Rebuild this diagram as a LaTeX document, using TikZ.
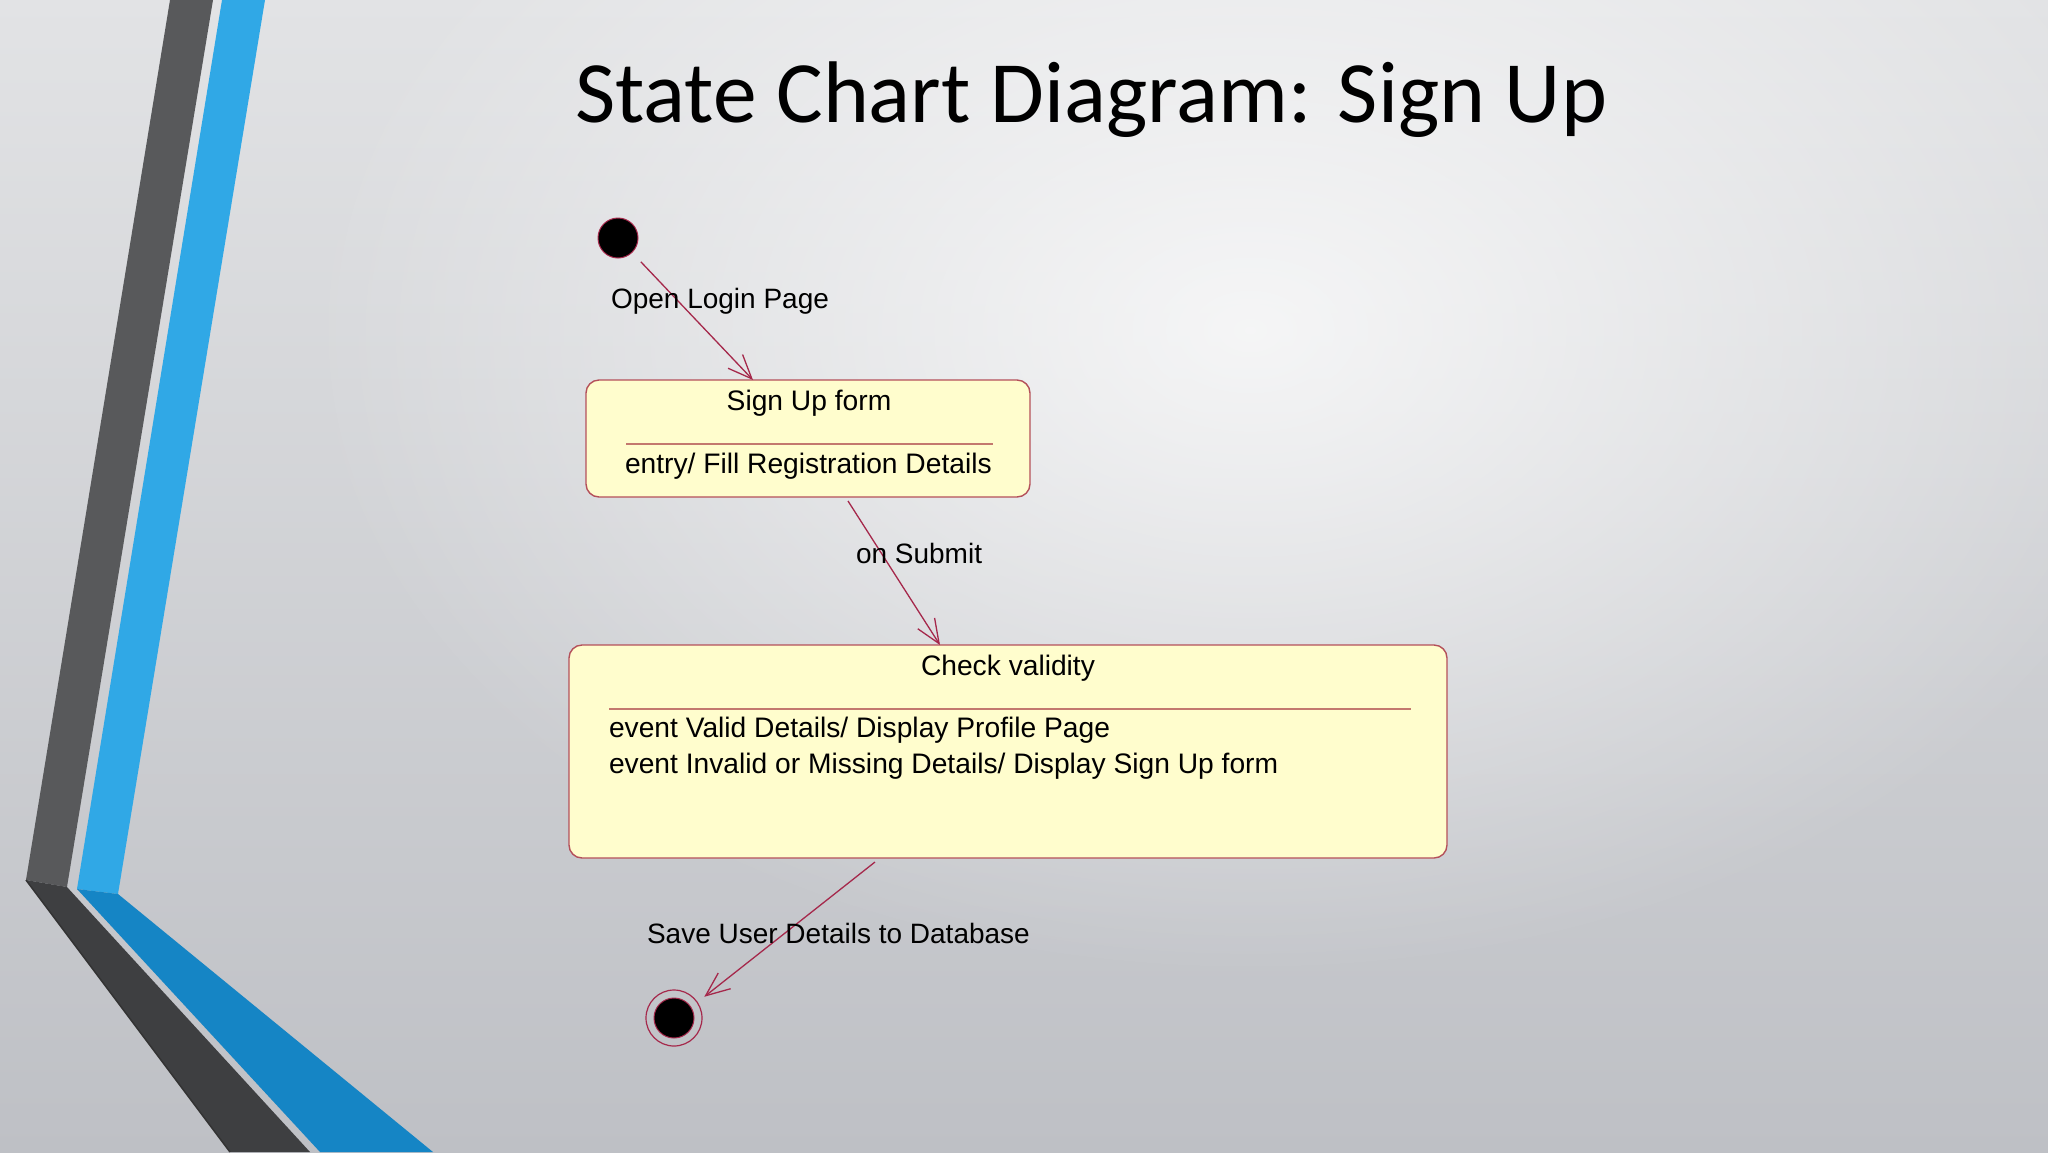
\documentclass[tikz,border=0pt]{standalone}
\usepackage{fontspec}
\setmainfont{Liberation Sans}
\newfontfamily\titlefont{Carlito}
\usetikzlibrary{arrows.meta,calc,fadings}
\definecolor{bgtop}{RGB}{226,227,229}
\definecolor{bgbot}{RGB}{190,192,197}
\definecolor{darkup}{RGB}{88,89,91}
\definecolor{darklow}{RGB}{62,63,65}
\definecolor{blueup}{RGB}{48,168,230}
\definecolor{bluelow}{RGB}{21,133,197}
\definecolor{maroon}{RGB}{165,40,75}
\definecolor{boxline}{RGB}{180,80,90}
\definecolor{divline}{RGB}{195,120,110}
\definecolor{boxfill}{RGB}{255,253,205}
\tikzfading[name=softspot, inner color=transparent!0, outer color=transparent!100]
\tikzset{
  statebox/.style={draw=boxline, fill=boxfill, line width=1.4pt, rounded corners=13pt, rectangle, inner sep=0pt, outer sep=0pt},
  divider/.style={draw=divline, line width=1.4pt},
  lbl/.style={inner sep=0pt, outer sep=0pt, font=\fontsize{28}{34}\selectfont, text=black},
  boxtext/.style={inner sep=0pt, outer sep=0pt, font=\fontsize{28.2}{34}\selectfont, text=black},
  trans/.style={draw=maroon, line width=1.3pt, -{Straight Barb[length=24pt, width=20pt, line width=1.3pt]}},
  initstate/.style={circle, fill=black, draw=maroon, line width=1pt, minimum size=40pt, inner sep=0pt, outer sep=0pt},
  finalring/.style={circle, draw=maroon, line width=1.2pt, minimum size=56pt, inner sep=0pt, outer sep=0pt},
}
\begin{document}
\begin{tikzpicture}[x=1pt, y=-1pt]
\useasboundingbox (0,0) rectangle (2048,1152);
% background
\shade[top color=bgtop, bottom color=bgbot] (0,0) rectangle (2048,1152);
\fill[white, opacity=0.75, path fading=softspot] (1250,330) ellipse (950 and 650);
% decorative stripes
\fill[darkup] (170,0) -- (213,0) -- (67,887) -- (26,880) -- cycle;
\fill[darklow] (26,880) -- (67,887) -- (310,1152) -- (230,1152) -- cycle;
\draw[black!80, line width=1.5pt] (26,880) -- (230,1152);
\fill[blueup] (222,0) -- (265,0) -- (118,894) -- (77,889) -- cycle;
\fill[bluelow] (77,889) -- (118,894) -- (433,1152) -- (320,1152) -- cycle;
% title
\node[inner sep=0pt, anchor=base west, font=\titlefont\fontsize{87.5}{100}\selectfont] (title) at (575,122) {State Chart Diagram: Sign Up};
% states
\node[initstate] (init) at (618,238) {};
\node[statebox, minimum width=444pt, minimum height=117pt] (signup) at (808,438.5) {};
\draw[divider] (626,444) -- (993,444);
\node[boxtext, anchor=base] (signupname) at (809,410) {Sign Up form};
\node[boxtext, anchor=base west] (signupentry) at (625,473) {entry/ Fill Registration Details};
\node[statebox, minimum width=878pt, minimum height=213pt] (check) at (1008,751.5) {};
\draw[divider] (609,709) -- (1411,709);
\node[boxtext, anchor=base] (checkname) at (1008,675) {Check validity};
\node[boxtext, anchor=base west] (checkev1) at (609,737) {event Valid Details/ Display Profile Page};
\node[boxtext, anchor=base west] (checkev2) at (609,773) {event Invalid or Missing Details/ Display Sign Up form};
\node[finalring] (final) at (674,1018) {};
\node[initstate] (finalin) at (final) {};
% transitions
\draw[trans, shorten <=13pt] (init.-46) -- ($(signup.north)+(-55,0)$);
\draw[trans] ($(signup.south)+(40,4)$) -- ($(check.north)+(-68,0)$);
\draw[trans, shorten >=9pt] ($(check.south)+(-133,4)$) -- (final.34);
% transition labels
\node[lbl, anchor=base west] (lbl1) at (611,308) {Open Login Page};
\node[lbl, anchor=base west] (lbl2) at (856,563) {on Submit};
\node[lbl, anchor=base west] (lbl3) at (647,943) {Save User Details to Database};
\end{tikzpicture}
\end{document}
